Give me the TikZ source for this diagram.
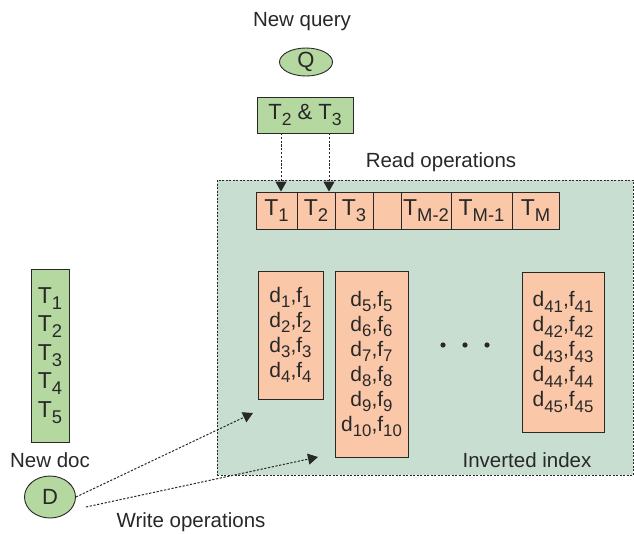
\documentclass[tikz,border=0pt]{standalone}
\usepackage{fontspec}
\usepackage{graphicx}
\setmainfont{Liberation Sans}
\usetikzlibrary{arrows.meta,shapes.geometric}
\definecolor{boxgreen}{RGB}{181,216,160}
\definecolor{salmon}{RGB}{250,200,168}
\definecolor{panel}{RGB}{200,222,208}
\definecolor{ink}{RGB}{40,40,40}
% lowered, slightly reduced index text
\newcommand\sbs[1]{\raisebox{-0.27em}{\scalebox{0.8}{#1}}}

\begin{document}
\begin{tikzpicture}[x=1pt,y=-1pt,
  lbl/.style={font=\fontsize{20.5}{22}\selectfont, text=ink},
  cell/.style={draw=ink, fill=salmon, line width=0.9pt, inner sep=0pt,
    minimum height=37pt, font=\fontsize{23}{24}\selectfont, text=ink},
  plist/.style={draw=ink, fill=salmon, line width=0.9pt, inner sep=0pt,
    align=center, font=\fontsize{21}{25}\selectfont, text=ink},
  gbox/.style={draw=ink, fill=boxgreen, line width=0.9pt, inner sep=0pt, text=ink},
  oval/.style={ellipse, draw=ink, fill=boxgreen, line width=0.9pt, inner sep=0pt,
    font=\fontsize{22}{22}\selectfont, text=ink},
  op/.style={draw=ink, line width=1pt, dash pattern=on 2.2pt off 1.6pt,
    -{Triangle[length=10pt,width=11pt]}},
]
\useasboundingbox (0,0) rectangle (634,533);

% index panel
\node[draw=ink, fill=panel, line width=0.9pt, dash pattern=on 2pt off 1.5pt,
  minimum width=416pt, minimum height=295pt, inner sep=0pt] (idx) at (425,327.5) {};

% query side
\node[lbl] (nq) at (302,22) {New query};
\node[oval, minimum width=53pt, minimum height=28pt] (Q) at (306,62) {Q};
\node[gbox, minimum width=96pt, minimum height=36pt, font=\fontsize{22}{24}\selectfont] (TT) at (305,115) {T\sbs{2} \& T\sbs{3}};
\node[lbl] (ro) at (441,162) {Read operations};

% term row
\node[cell, minimum width=41pt] (T1) at (276.5,210.5) {T\sbs{1}};
\node[cell, minimum width=38pt] (T2) at (316,210.5) {T\sbs{2}};
\node[cell, minimum width=38pt] (T3) at (354,210.5) {T\sbs{3}};
\node[cell, minimum width=28pt] (Tx) at (387,210.5) {};
\node[cell, minimum width=50pt] (Tm2) at (426,210.5) {T\sbs{M-2}};
\node[cell, minimum width=61pt] (Tm1) at (481.5,210.5) {T\sbs{M-1}};
\node[cell, minimum width=47pt] (Tm) at (535.5,210.5) {T\sbs{M}};

% read arrows
\coordinate (ra) at (281,133);
\coordinate (rb) at (329,133);
\draw[op] (ra) -- (ra |- T1.north);
\draw[op] (rb) -- (rb |- T2.north);

% posting lists
\node[plist, minimum width=65pt, minimum height=128pt] (P1) at (290.5,335)
  {d\sbs{1},f\sbs{1}\\d\sbs{2},f\sbs{2}\\d\sbs{3},f\sbs{3}\\d\sbs{4},f\sbs{4}};
\node[plist, minimum width=73pt, minimum height=186pt] (P2) at (371.5,364)
  {d\sbs{5},f\sbs{5}\\d\sbs{6},f\sbs{6}\\d\sbs{7},f\sbs{7}\\d\sbs{8},f\sbs{8}\\d\sbs{9},f\sbs{9}\\d\sbs{10},f\sbs{10}};
\node[plist, minimum width=82pt, minimum height=160pt] (P3) at (563,352)
  {d\sbs{41},f\sbs{41}\\d\sbs{42},f\sbs{42}\\d\sbs{43},f\sbs{43}\\d\sbs{44},f\sbs{44}\\d\sbs{45},f\sbs{45}};
\foreach \x/\n in {443/a,465/b,487/c}
  \fill[ink] (\x,345) circle (2.6pt) coordinate (dot\n);
\node[lbl] (ii) at (527,460) {Inverted index};

% new document
\node[gbox, minimum width=38pt, minimum height=173pt, align=center,
  font=\fontsize{23}{28.5}\selectfont] (doc) at (50,355.5)
  {T\sbs{1}\\T\sbs{2}\\T\sbs{3}\\T\sbs{4}\\T\sbs{5}};
\node[lbl] (nd) at (50,460) {New doc};
\node[oval, minimum width=51pt, minimum height=42pt] (D) at (50,497) {D};
\node[lbl] (wo) at (191,522) {Write operations};

% write arrows
\coordinate (wa) at (253,413);
\coordinate (ws) at (86,507);
\coordinate (wb) at (318,457);
\draw[op] (D.east) -- (wa);
\draw[op] (ws) -- (wb);
\end{tikzpicture}
\end{document}
